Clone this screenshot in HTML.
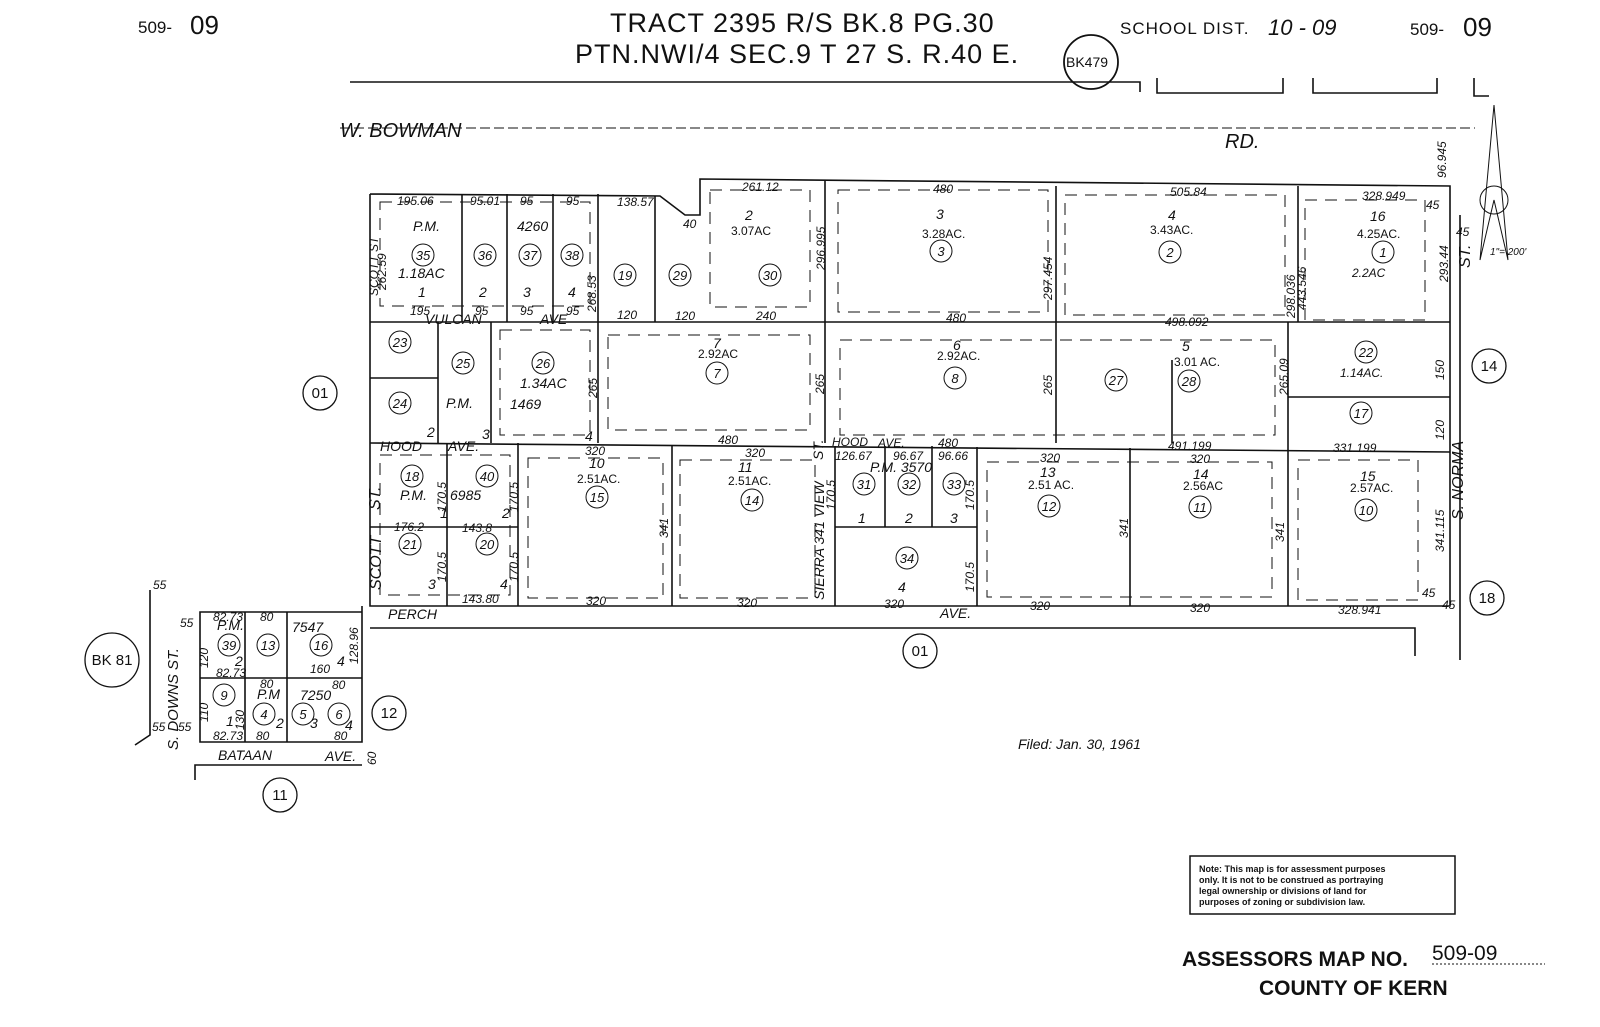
<!DOCTYPE html>
<html><head><meta charset="utf-8"><style>
html,body{margin:0;padding:0;background:#fff}
svg{display:block}
text{font-family:"Liberation Sans",sans-serif;fill:#111}
.s{font-size:12px;font-style:italic}
.m{font-size:15px}
.c{font-size:14px;font-style:italic}
</style></head><body>
<svg width="1600" height="1027" viewBox="0 0 1600 1027" xmlns="http://www.w3.org/2000/svg">
<g stroke="#111" fill="none" stroke-width="1.6">
<!-- top lines -->
<polyline points="350,82 1140,82 1140,92"/>
<polyline points="1157,78 1157,93 1283,93 1283,78"/>
<polyline points="1313,78 1313,93 1437,93 1437,78"/>
<polyline points="1474,78 1474,96 1489,96"/>
<line x1="340" y1="128" x2="1475" y2="128" stroke-dasharray="10,4" stroke-width="1"/>
<!-- main outline -->
<polyline points="370,194 660,196 685,215 700,215 700,179 1450,186 1450,606 370,606 370,194"/>
<polyline points="370,628 1415,628 1415,656"/>
<line x1="1460" y1="215" x2="1460" y2="660"/>
<!-- verticals top -->
<line x1="462" y1="194" x2="462" y2="322"/>
<line x1="507" y1="194" x2="507" y2="322"/>
<line x1="553" y1="194" x2="553" y2="322"/>
<line x1="598" y1="194" x2="598" y2="443"/>
<line x1="655" y1="196" x2="655" y2="322"/>
<line x1="825" y1="181" x2="825" y2="443"/>
<line x1="1056" y1="186" x2="1056" y2="443"/>
<line x1="1298" y1="186" x2="1298" y2="322"/>
<line x1="1288" y1="322" x2="1288" y2="606"/>
<line x1="370" y1="322" x2="1450" y2="322"/>
<!-- vulcan section -->
<line x1="438" y1="322" x2="438" y2="443"/>
<line x1="370" y1="378" x2="438" y2="378"/>
<line x1="491" y1="322" x2="491" y2="443"/>
<line x1="1172" y1="360" x2="1172" y2="443"/>
<line x1="1288" y1="397" x2="1450" y2="397"/>
<line x1="370" y1="443" x2="1450" y2="452"/>
<!-- hood section -->
<line x1="447" y1="443" x2="447" y2="606"/>
<line x1="370" y1="527" x2="518" y2="527"/>
<line x1="518" y1="443" x2="518" y2="606"/>
<line x1="672" y1="445" x2="672" y2="606"/>
<line x1="835" y1="446" x2="835" y2="606"/>
<line x1="885" y1="446" x2="885" y2="527"/>
<line x1="932" y1="446" x2="932" y2="527"/>
<line x1="835" y1="527" x2="977" y2="527"/>
<line x1="977" y1="447" x2="977" y2="606"/>
<line x1="1130" y1="448" x2="1130" y2="606"/>
<!-- lower left block -->
<polyline points="362,606 362,612 200,612 200,742 362,742 362,612"/>
<line x1="200" y1="678" x2="362" y2="678"/>
<line x1="245" y1="612" x2="245" y2="742"/>
<line x1="287" y1="612" x2="287" y2="742"/>
<polyline points="150,590 150,735 135,745"/>
<polyline points="195,780 195,765 362,765"/>
<!-- dashed inner -->
<g stroke-dasharray="12,8" stroke-width="1">
<rect x="380" y="202" width="210" height="104"/>
<rect x="710" y="190" width="100" height="117"/>
<rect x="838" y="190" width="210" height="122"/>
<rect x="1065" y="195" width="220" height="120"/>
<rect x="1305" y="200" width="120" height="120"/>
<rect x="608" y="335" width="202" height="95"/>
<rect x="840" y="340" width="435" height="95"/>
<rect x="500" y="330" width="90" height="105"/>
<rect x="380" y="455" width="130" height="140"/>
<rect x="528" y="458" width="135" height="140"/>
<rect x="680" y="460" width="135" height="138"/>
<rect x="987" y="462" width="285" height="135"/>
<rect x="1298" y="460" width="120" height="140"/>
</g>
</g>
<!-- circles -->
<g stroke="#111" fill="none" stroke-width="1.3">
<circle cx="1091" cy="62" r="27" stroke-width="1.8"/>
<circle cx="320" cy="393" r="17"/>
<circle cx="1489" cy="366" r="17"/>
<circle cx="1487" cy="598" r="17"/>
<circle cx="920" cy="651" r="17"/>
<circle cx="389" cy="713" r="17"/>
<circle cx="280" cy="795" r="17"/>
<circle cx="112" cy="660" r="27"/>
</g>
<g stroke="#111" fill="none" stroke-width="1">
<circle cx="423" cy="255" r="11"/><circle cx="485" cy="255" r="11"/><circle cx="530" cy="255" r="11"/><circle cx="572" cy="255" r="11"/>
<circle cx="625" cy="275" r="11"/><circle cx="680" cy="275" r="11"/><circle cx="770" cy="275" r="11"/>
<circle cx="941" cy="251" r="11"/><circle cx="1170" cy="252" r="11"/><circle cx="1383" cy="252" r="11"/>
<circle cx="400" cy="342" r="11"/><circle cx="400" cy="403" r="11"/><circle cx="463" cy="363" r="11"/><circle cx="543" cy="363" r="11"/>
<circle cx="717" cy="373" r="11"/><circle cx="955" cy="378" r="11"/><circle cx="1116" cy="380" r="11"/><circle cx="1189" cy="381" r="11"/>
<circle cx="1366" cy="352" r="11"/><circle cx="1361" cy="413" r="11"/>
<circle cx="412" cy="476" r="11"/><circle cx="487" cy="476" r="11"/><circle cx="410" cy="544" r="11"/><circle cx="487" cy="544" r="11"/>
<circle cx="597" cy="497" r="11"/><circle cx="752" cy="500" r="11"/><circle cx="864" cy="484" r="11"/><circle cx="909" cy="484" r="11"/><circle cx="954" cy="484" r="11"/>
<circle cx="907" cy="558" r="11"/><circle cx="1049" cy="506" r="11"/><circle cx="1200" cy="507" r="11"/><circle cx="1366" cy="510" r="11"/>
<circle cx="229" cy="645" r="11"/><circle cx="268" cy="645" r="11"/><circle cx="321" cy="645" r="11"/>
<circle cx="224" cy="695" r="11"/><circle cx="264" cy="714" r="11"/><circle cx="303" cy="714" r="11"/><circle cx="339" cy="714" r="11"/>
</g>
<!-- headings -->
<text x="138" y="33" font-size="17">509-</text><text x="190" y="34" font-size="26">09</text>
<text x="610" y="32" font-size="27" letter-spacing="1">TRACT 2395 R/S BK.8 PG.30</text>
<text x="575" y="63" font-size="27" letter-spacing="1">PTN.NWI/4 SEC.9 T 27 S. R.40 E.</text>
<text x="1066" y="67" font-size="14">BK479</text>
<text x="1120" y="34" font-size="17" letter-spacing="1">SCHOOL DIST.</text><text x="1268" y="35" font-size="22" font-style="italic">10 - 09</text>
<text x="1410" y="35" font-size="17">509-</text><text x="1463" y="36" font-size="26">09</text>
<text x="340" y="137" font-size="20" font-style="italic">W. BOWMAN</text>
<text x="1225" y="148" font-size="20" font-style="italic">RD.</text>
<!-- north arrow -->
<g stroke="#111" fill="none" stroke-width="1"><polyline points="1494,105 1480,260 1494,200 1508,260 1494,105"/><circle cx="1494" cy="200" r="14"/></g>
<text x="1490" y="255" font-size="10" font-style="italic">1"= 200'</text>
<text x="1092" y="67" font-size="13" text-anchor="middle"></text>
<!-- parcel numbers -->
<g font-size="13" font-style="italic" text-anchor="middle">
<text x="423" y="260">35</text><text x="485" y="260">36</text><text x="530" y="260">37</text><text x="572" y="260">38</text>
<text x="625" y="280">19</text><text x="680" y="280">29</text><text x="770" y="280">30</text>
<text x="941" y="256">3</text><text x="1170" y="257">2</text><text x="1383" y="257">1</text>
<text x="400" y="347">23</text><text x="400" y="408">24</text><text x="463" y="368">25</text><text x="543" y="368">26</text>
<text x="717" y="378">7</text><text x="955" y="383">8</text><text x="1116" y="385">27</text><text x="1189" y="386">28</text>
<text x="1366" y="357">22</text><text x="1361" y="418">17</text>
<text x="412" y="481">18</text><text x="487" y="481">40</text><text x="410" y="549">21</text><text x="487" y="549">20</text>
<text x="597" y="502">15</text><text x="752" y="505">14</text><text x="864" y="489">31</text><text x="909" y="489">32</text><text x="954" y="489">33</text>
<text x="907" y="563">34</text><text x="1049" y="511">12</text><text x="1200" y="512">11</text><text x="1366" y="515">10</text>
<text x="229" y="650">39</text><text x="268" y="650">13</text><text x="321" y="650">16</text>
<text x="224" y="700">9</text><text x="264" y="719">4</text><text x="303" y="719">5</text><text x="339" y="719">6</text>
</g>
<g font-size="15" text-anchor="middle">
<text x="320" y="398">01</text><text x="1489" y="371">14</text><text x="1487" y="603">18</text><text x="920" y="656">01</text>
<text x="389" y="718">12</text><text x="280" y="800">11</text><text x="112" y="665">BK 81</text>
</g>
<!-- labels -->
<g class="c">
<text x="413" y="231">P.M.</text><text x="398" y="278">1.18AC</text><text x="418" y="297">1</text><text x="479" y="297">2</text><text x="523" y="297">3</text><text x="568" y="297">4</text>
<text x="517" y="231">4260</text>
<text x="446" y="408">P.M.</text><text x="510" y="409">1469</text><text x="520" y="388">1.34AC</text>
<text x="427" y="437">2</text><text x="482" y="439">3</text><text x="585" y="441">4</text>
<text x="400" y="500">P.M.</text><text x="450" y="500">6985</text><text x="440" y="518">1</text><text x="502" y="518">2</text><text x="428" y="589">3</text><text x="500" y="589">4</text>
<text x="870" y="472">P.M. 3570</text><text x="858" y="523">1</text><text x="905" y="523">2</text><text x="950" y="523">3</text><text x="898" y="592">4</text>
<text x="745" y="220">2</text><text x="936" y="219">3</text><text x="1168" y="220">4</text><text x="1370" y="221">16</text>
<text x="713" y="348">7</text><text x="953" y="350">6</text><text x="1182" y="351">5</text>
<text x="589" y="468">10</text><text x="738" y="472">11</text><text x="1040" y="477">13</text><text x="1193" y="479">14</text><text x="1360" y="481">15</text>
<text x="217" y="630">P.M.</text><text x="235" y="666">2</text><text x="226" y="726">1</text><text x="257" y="699">P.M</text><text x="276" y="728">2</text><text x="310" y="728">3</text><text x="292" y="632">7547</text><text x="300" y="700">7250</text><text x="337" y="666">4</text><text x="345" y="730">4</text>
<text x="1018" y="749">Filed: Jan. 30, 1961</text>
</g>
<g font-size="12">
<text x="731" y="235">3.07AC</text><text x="922" y="238">3.28AC.</text><text x="1150" y="234">3.43AC.</text><text x="1357" y="238">4.25AC.</text><text x="1352" y="277" font-style="italic">2.2AC</text>
<text x="698" y="358">2.92AC</text><text x="937" y="360">2.92AC.</text><text x="1174" y="366">3.01 AC.</text><text x="1340" y="377" font-style="italic">1.14AC.</text>
<text x="577" y="483">2.51AC.</text><text x="728" y="485">2.51AC.</text><text x="1028" y="489">2.51 AC.</text><text x="1183" y="490">2.56AC</text><text x="1350" y="492">2.57AC.</text>
</g>
<g class="s">
<text x="397" y="205">195.06</text><text x="470" y="205">95.01</text><text x="520" y="205">95</text><text x="566" y="205">95</text><text x="617" y="206">138.57</text><text x="683" y="228">40</text>
<text x="742" y="191">261.12</text><text x="933" y="193">480</text><text x="1170" y="196">505.84</text><text x="1362" y="200">328.949</text>
<text x="410" y="315">195</text><text x="475" y="315">95</text><text x="520" y="315">95</text><text x="566" y="315">95</text><text x="617" y="319">120</text><text x="675" y="320">120</text><text x="756" y="320">240</text><text x="946" y="322">480</text><text x="1165" y="326">498.092</text>
<text x="718" y="444">480</text><text x="938" y="447">480</text><text x="1168" y="450">491.199</text><text x="1333" y="452">331.199</text>
<text x="585" y="455">320</text><text x="745" y="457">320</text><text x="835" y="460">126.67</text><text x="893" y="460">96.67</text><text x="938" y="460">96.66</text><text x="1040" y="462">320</text><text x="1190" y="463">320</text>
<text x="394" y="531">176.2</text><text x="462" y="532">143.8</text><text x="462" y="603">143.80</text>
<text x="586" y="605">320</text><text x="737" y="607">320</text><text x="884" y="608">320</text><text x="1030" y="610">320</text><text x="1190" y="612">320</text><text x="1338" y="614">328.941</text>
<text x="213" y="621">82.73</text><text x="260" y="621">80</text><text x="310" y="673">160</text><text x="216" y="677">82.73</text><text x="260" y="688">80</text><text x="332" y="689">80</text>
<text x="213" y="740">82.73</text><text x="256" y="740">80</text><text x="334" y="740">80</text>
<text x="1426" y="209">45</text><text x="1456" y="236">45</text><text x="1422" y="597">45</text><text x="1442" y="609">45</text>
<text x="153" y="589">55</text><text x="180" y="627">55</text><text x="152" y="731">55</text><text x="178" y="731">55</text>
</g>
<g class="s">
<text transform="translate(378,296) rotate(-90)">SCOTT ST</text>
<text transform="translate(386,290) rotate(-90)">262.59</text>
<text transform="translate(596,312) rotate(-90)">268.53</text>
<text transform="translate(825,270) rotate(-90)">296.995</text>
<text transform="translate(1052,300) rotate(-90)">297.454</text>
<text transform="translate(1295,318) rotate(-90)">298.036</text>
<text transform="translate(1306,310) rotate(-90)">443.546</text>
<text transform="translate(1448,282) rotate(-90)">293.44</text>
<text transform="translate(1446,178) rotate(-90)">96.945</text>
<text transform="translate(597,398) rotate(-90)">265</text>
<text transform="translate(824,394) rotate(-90)">265</text>
<text transform="translate(1052,395) rotate(-90)">265</text>
<text transform="translate(1288,395) rotate(-90)">265.09</text>
<text transform="translate(1444,380) rotate(-90)">150</text>
<text transform="translate(1444,440) rotate(-90)">120</text>
<text transform="translate(1444,552) rotate(-90)">341.115</text>
<text transform="translate(668,538) rotate(-90)">341</text>
<text transform="translate(1128,538) rotate(-90)">341</text>
<text transform="translate(1284,542) rotate(-90)">341</text>
<text transform="translate(446,512) rotate(-90)">170.5</text>
<text transform="translate(518,512) rotate(-90)">170.5</text>
<text transform="translate(446,582) rotate(-90)">170.5</text>
<text transform="translate(518,582) rotate(-90)">170.5</text>
<text transform="translate(974,510) rotate(-90)">170.5</text>
<text transform="translate(974,592) rotate(-90)">170.5</text>
<text transform="translate(835,510) rotate(-90)">170.5</text>
<text transform="translate(208,668) rotate(-90)">120</text>
<text transform="translate(208,722) rotate(-90)">110</text>
<text transform="translate(244,730) rotate(-90)">130</text>
<text transform="translate(358,664) rotate(-90)">128.96</text>
<text transform="translate(376,765) rotate(-90)">60</text>
</g>
<g font-style="italic" font-size="14">
<text x="425" y="324">VULCAN</text><text x="540" y="324">AVE</text>
<text x="380" y="451">HOOD</text><text x="448" y="451">AVE.</text>
<text x="832" y="446" font-size="12">HOOD</text><text x="878" y="447" font-size="12">AVE.</text>
<text x="388" y="619">PERCH</text><text x="940" y="618">AVE.</text>
<text x="218" y="760">BATAAN</text><text x="325" y="761">AVE.</text>
<text transform="translate(381,590) rotate(-90)" font-size="16">SCOTT</text>
<text transform="translate(380,510) rotate(-90)" font-size="16">ST.</text>
<text transform="translate(824,600) rotate(-90)">SIERRA   341 VIEW</text>
<text transform="translate(823,460) rotate(-90)">ST.</text>
<text transform="translate(1463,520) rotate(-90)" font-size="16">S. NORMA</text>
<text transform="translate(1470,268) rotate(-90)" font-size="16">ST.</text>
<text transform="translate(178,750) rotate(-90)" font-size="15">S. DOWNS ST.</text>
</g>
<!-- note -->
<rect x="1190" y="856" width="265" height="58" fill="none" stroke="#111" stroke-width="1.5"/>
<g font-size="9" font-weight="bold"><text x="1199" y="872">Note: This map is for assessment purposes</text><text x="1199" y="883">only. It is not to be construed as portraying</text><text x="1199" y="894">legal ownership or divisions of land for</text><text x="1199" y="905">purposes of zoning or subdivision law.</text></g>
<text x="1182" y="966" font-size="21" font-weight="bold">ASSESSORS MAP NO.</text>
<text x="1432" y="960" font-size="21">509-09</text>
<line x1="1432" y1="964" x2="1545" y2="964" stroke="#111" stroke-dasharray="2,2"/>
<text x="1259" y="995" font-size="21" font-weight="bold">COUNTY OF KERN</text>
</svg>
</body></html>
